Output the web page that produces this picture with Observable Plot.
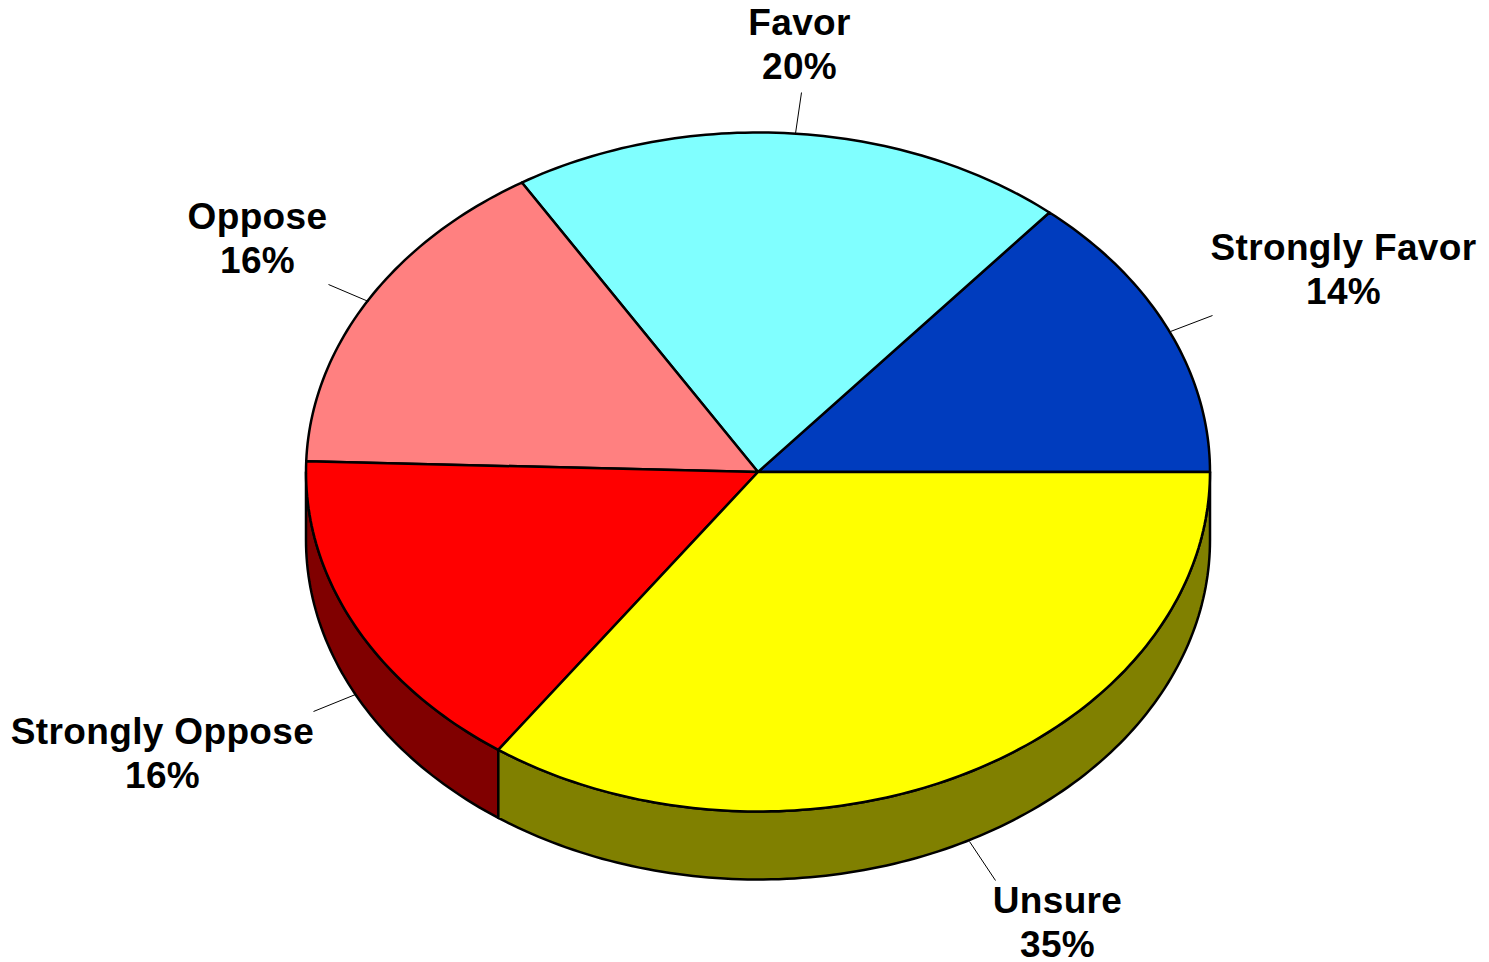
<!DOCTYPE html>
<html><head><meta charset="utf-8">
<style>html,body{margin:0;padding:0;background:#fff}svg{display:block}</style>
<script src="https://cdn.jsdelivr.net/npm/d3@7"></script>
<script src="https://cdn.jsdelivr.net/npm/@observablehq/plot@0.6"></script>
</head><body><div id="chart"></div>
<script>
const categories = ["Strongly Favor","Favor","Oppose","Strongly Oppose","Unsure"];
const shares = [13.85,19.9,15.75,15.76,34.74];
const printed = ["14%","20%","16%","16%","35%"];
const topColors = ["#003CBE","#80FFFF","#FF8080","#FF0000","#FFFF00"];
const sideColors = ["#001E5F","#408080","#804040","#800000","#808000"];
const labelX = [1343,799,257,162,1057];
const labelY = [267.5,42.5,236.5,751.5,920.5];
const leaderOuterX = [1212,801,328,313,995];
const leaderOuterY = [315,92,284,711,880];
const leaderInnerX = [1170,795,368,355,969];
const leaderInnerY = [331,133,301,694,841];

const cx=757.5, cy=471.5, rx=452, ry=339.5, depth=68;
const pt=(deg,dz=0)=>{const a=deg*Math.PI/180;return {x:cx+rx*Math.cos(a),y:cy-ry*Math.sin(a)+dz};};
const arc=(a0,a1,dz=0)=>{const n=Math.max(2,Math.ceil(Math.abs(a1-a0)));return d3.range(n+1).map(i=>pt(a0+(a1-a0)*i/n,dz));};

const tops=[], sides=[];
let acc=0;
categories.forEach((c,i)=>{
  const a0=acc/100*360; acc+=shares[i]; const a1=acc/100*360;
  const ring=[{x:cx,y:cy},...arc(a0,a1),{x:cx,y:cy}];
  ring.forEach(p=>tops.push({...p,c,fill:topColors[i]}));
  const s0=Math.max(a0,180), s1=Math.min(a1,360);
  if(s1>s0){
    const wall=[...arc(s0,s1),...arc(s1,s0,depth)];
    wall.push(wall[0]);
    wall.forEach(p=>sides.push({...p,c,fill:sideColors[i]}));
  }
});
const labels=categories.map((c,i)=>({t:c+"\n"+printed[i],x:labelX[i],y:labelY[i]}));
const leaders=categories.map((c,i)=>({x1:leaderInnerX[i],y1:leaderInnerY[i],x2:leaderOuterX[i],y2:leaderOuterY[i]}));

const chart=Plot.plot({
  width:1489,height:962,margin:0,
  style:{background:"#fff",letterSpacing:"0.35px"},
  x:{domain:[0,1489],range:[0,1489],axis:null},
  y:{domain:[0,962],range:[0,962],axis:null},
  marks:[
    Plot.line(sides,{x:"x",y:"y",z:"c",fill:"fill",stroke:"#000",strokeWidth:2.5,strokeLinejoin:"round"}),
    Plot.line(tops,{x:"x",y:"y",z:"c",fill:"fill",stroke:"#000",strokeWidth:2.5,strokeLinejoin:"round"}),
    Plot.link(leaders,{x1:"x1",y1:"y1",x2:"x2",y2:"y2",stroke:"#000",strokeWidth:1}),
    Plot.text(labels,{x:"x",y:"y",text:"t",fontFamily:"Liberation Sans",fontWeight:"bold",fontSize:37,lineHeight:44/37,fill:"#000"})
  ]
});
document.getElementById("chart").append(chart);
</script></body></html>
